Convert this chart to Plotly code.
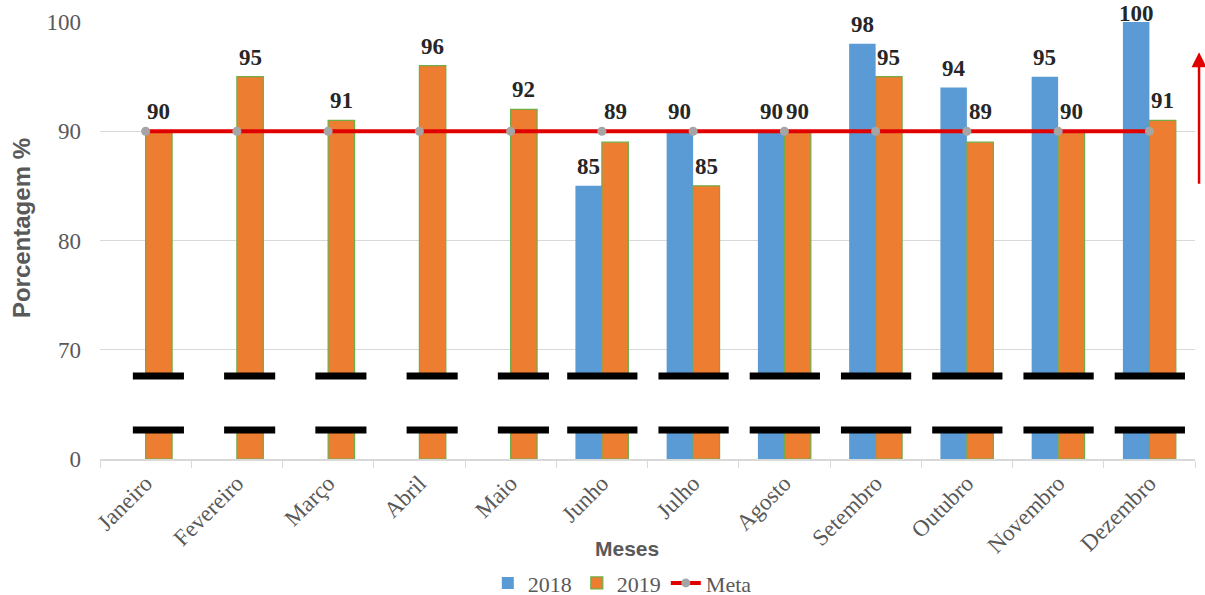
import plotly.graph_objects as go

meses = ["Janeiro", "Fevereiro", "Março", "Abril", "Maio", "Junho", "Julho",
         "Agosto", "Setembro", "Outubro", "Novembro", "Dezembro"]
v2018 = [None, None, None, None, None, 85, 90, 90, 98, 94, 95, 100]
v2019 = [90, 95, 91, 96, 92, 89, 85, 90, 95, 89, 90, 91]
meta = [90] * 12

# broken axis: real value 0 is drawn at the position of 60
AXIS_BASE = 60
ytick_vals = [60, 70, 80, 90, 100]
ytick_text = ["0", "70", "80", "90", "100"]

BLUE = "#5B9BD5"
ORANGE = "#ED7D31"
GREEN = "#70AD47"
RED = "#E00000"
GRAY_TXT = "#595959"
SERIF = "Liberation Serif, Times New Roman, serif"
SANS = "Liberation Sans, Arial, sans-serif"
BAR_OFFSET = 0.145  # half a bar width, in category units (bargap 0.42)

def shift(vals):
    return [(None if v is None else v - AXIS_BASE) for v in vals]

LABEL_FONT = dict(family=SERIF, size=23, color="#262626", weight="bold")

fig = go.Figure()
fig.add_trace(go.Bar(
    name="2018", x=meses, y=shift(v2018), base=AXIS_BASE,
    marker=dict(color=BLUE, line=dict(width=0)),
))
fig.add_trace(go.Bar(
    name="2019", x=meses, y=shift(v2019), base=AXIS_BASE,
    marker=dict(color=ORANGE, line=dict(width=1.2, color=GREEN)),
))
fig.add_trace(go.Scatter(
    name="Meta", x=meses, y=meta, mode="lines+markers",
    line=dict(color=RED, width=4),
    marker=dict(color="#A5A5A5", size=9),
    cliponaxis=False,
))

# data labels (moved above the Meta line when they would collide, kept inside the top)
annotations = []
for series, side in ((v2018, -1), (v2019, 1)):
    for i, v in enumerate(series):
        if v is None:
            continue
        base = v
        if meta[i] - 2 < v <= meta[i]:
            base = meta[i]
        base = min(base, 99.0)
        annotations.append(dict(
            x=i + side * BAR_OFFSET, y=base, xref="x", yref="y", text=str(v),
            showarrow=False, yanchor="bottom", xanchor="center", yshift=5,
            font=LABEL_FONT))

# axis-break marks on each bar group
shapes = []
for i, m in enumerate(meses):
    if v2018[i] is not None:
        x0, x1 = i - 0.38, i + 0.39
    else:
        x0, x1 = i - 0.14, i + 0.42
    shapes.append(dict(type="rect", xref="x", yref="y", x0=x0, x1=x1,
                       y0=62.7, y1=67.6, fillcolor="white", line=dict(width=0),
                       layer="above"))
    for yy in (67.6, 62.65):
        shapes.append(dict(type="line", xref="x", yref="y", x0=x0, x1=x1,
                           y0=yy, y1=yy, line=dict(color="black", width=7),
                           layer="above"))

annotations += [
    dict(text="<b>Meses</b>", xref="paper", yref="paper", x=0.481, y=-0.204,
         showarrow=False, font=dict(family=SANS, size=21, color=GRAY_TXT),
         xanchor="center", yanchor="middle"),
    dict(text="<b>Porcentagem %</b>", xref="paper", yref="paper", x=-0.071, y=0.529,
         showarrow=False, textangle=-90, font=dict(family=SANS, size=24, color=GRAY_TXT),
         xanchor="center", yanchor="middle"),
    dict(xref="paper", yref="paper", x=1.0037, y=0.931, ax=0, ay=133,
         showarrow=True, arrowhead=2, arrowsize=1.2, arrowwidth=2.5, arrowcolor=RED,
         text=""),
]

fig.update_layout(
    width=1205, height=595,
    margin=dict(l=100, r=10, t=22, b=136, autoexpand=False),
    paper_bgcolor="white", plot_bgcolor="white",
    barmode="group", bargap=0.42, bargroupgap=0,
    shapes=shapes,
    showlegend=True,
    legend=dict(orientation="h", x=0.477, xanchor="center", y=-0.284, yanchor="middle",
                font=dict(family=SERIF, size=22, color=GRAY_TXT),
                itemwidth=30, tracegroupgap=0),
    annotations=annotations,
)
fig.update_xaxes(
    type="category", range=[-0.5, 11.5], autorange=False, automargin=False,
    showgrid=False, showline=True, linecolor="#D9D9D9", linewidth=1.5,
    ticks="outside", tickson="boundaries", ticklen=7, tickcolor="#D9D9D9",
    tickangle=-45, tickfont=dict(family=SERIF, size=23, color=GRAY_TXT),
)
fig.update_yaxes(
    range=[60, 100], autorange=False, automargin=False,
    tickvals=ytick_vals, ticktext=ytick_text,
    showgrid=True, gridcolor="#D9D9D9", gridwidth=1, zeroline=False, showline=False,
    tickfont=dict(family=SERIF, size=23, color=GRAY_TXT), ticklabelstandoff=18,
)

fig.write_html("out.html")
